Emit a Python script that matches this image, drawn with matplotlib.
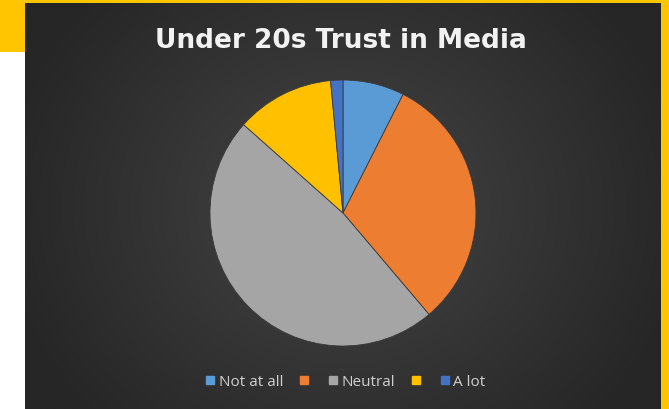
import numpy as np
import matplotlib
matplotlib.use("Agg")
import matplotlib.pyplot as plt
from matplotlib.patches import Rectangle
from matplotlib.lines import Line2D

categories = ["Not at all", "", "Neutral", "", "A lot"]
values = [5, 21, 32, 8, 1]
colors = ["#5B9BD5", "#ED7D31", "#A5A5A5", "#FFC000", "#4472C4"]
title = "Under 20s Trust in Media"

W, H = 669, 410
fig = plt.figure(figsize=(W / 100, H / 100), dpi=100)
fig.patch.set_facecolor("white")

# yellow decorations
fig.patches.append(Rectangle((0, 1 - 53 / H), 25 / W, 53 / H, transform=fig.transFigure,
                             facecolor="#FFC600", edgecolor="none", zorder=1))
fig.patches.append(Rectangle((0, 1 - 4 / H), 1, 4 / H, transform=fig.transFigure,
                             facecolor="#FFC600", edgecolor="none", zorder=1))
fig.patches.append(Rectangle((661 / W, 0), 8 / W, 1, transform=fig.transFigure,
                             facecolor="#FFC600", edgecolor="none", zorder=1))

# dark gradient panel
bg = fig.add_axes([25 / W, 0, (661 - 25) / W, 406 / H], zorder=2)
ny, nx = 200, 320
yy, xx = np.mgrid[0:ny, 0:nx]
cx, cy = nx * 0.5, ny * 0.5
r = np.sqrt(((xx - cx) / (nx * 0.55)) ** 2 + ((yy - cy) / (ny * 0.75)) ** 2)
r = np.clip(r, 0, 1)
inner = np.array([0x45, 0x45, 0x45]) / 255
outer = np.array([0x26, 0x26, 0x26]) / 255
img = inner[None, None, :] * (1 - r[..., None]) + outer[None, None, :] * r[..., None]
bg.imshow(img, aspect="auto", extent=[0, 1, 0, 1], interpolation="bilinear")
bg.set_axis_off()

# pie
R = 133
ax = fig.add_axes([(343 - R) / W, (H - 214 - R) / H, 2 * R / W, 2 * R / H], zorder=3)
ax.set_facecolor("none")
wedges, _ = ax.pie(values, colors=colors, startangle=90, counterclock=False,
                   wedgeprops=dict(linewidth=0.6, edgecolor="#3a3a3a"))
ax.set_aspect("equal")
ax.set_xlim(-1, 1)
ax.set_ylim(-1, 1)
ax.set_axis_off()

fig.text(341 / W, 1 - 41 / H, title, ha="center", va="center", color="#F2F2F2",
         fontsize=19, fontweight="bold", family="DejaVu Sans", zorder=5)

handles = [Line2D([0], [0], marker="s", linestyle="none", markersize=6,
                  markerfacecolor=c, markeredgecolor=c) for c in colors]
leg = fig.legend(handles, categories, loc="center", bbox_to_anchor=(346 / W, 1 - 383 / H),
                 ncol=5, frameon=False, handlelength=0.55, handletextpad=0.3,
                 columnspacing=1.05, labelcolor="#D0D0D0", prop=dict(family="Open Sans", size=11))
leg.set_zorder(6)

fig.savefig("out.png", dpi=100)
